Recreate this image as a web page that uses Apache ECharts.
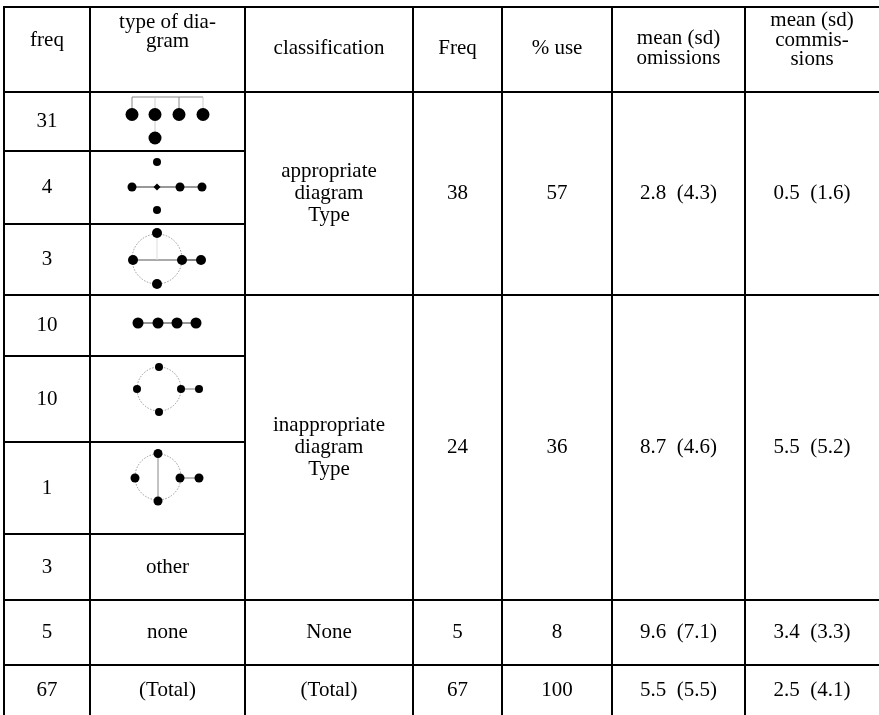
<!DOCTYPE html>
<html><head><meta charset="utf-8">
<script src="https://cdn.jsdelivr.net/npm/echarts@6/dist/echarts.min.js"></script>
<style>html,body{margin:0;padding:0;background:#fff}#c{width:879px;height:715px}</style>
</head><body><div id="c"></div>
<script>
// ---------- data ----------
const headers = ['freq', 'type of dia-\ngram', 'classification', 'Freq', '% use', 'mean (sd)\nomissions', 'mean (sd)\ncommis-\nsions'];
const rowFreq = ['31', '4', '3', '10', '10', '1', '3', '5', '67'];
const rowType = ['diagram 1', 'diagram 2', 'diagram 3', 'diagram 4', 'diagram 5', 'diagram 6', 'other', 'none', '(Total)'];
const classLabels = ['appropriate\ndiagram\nType', 'inappropriate\ndiagram\nType', 'None', '(Total)'];
const classFreq = [38, 24, 5, 67];
const classPct = [57, 36, 8, 100];
const omissionMean = [2.8, 8.7, 9.6, 5.5];
const omissionSd = [4.3, 4.6, 7.1, 5.5];
const commissionMean = [0.5, 5.5, 3.4, 2.5];
const commissionSd = [1.6, 5.2, 3.3, 4.1];

// ---------- layout ----------
const W = 879, H = 715;
const colX = [4, 90, 245, 413, 502, 612, 745, 879];
const rowY = [7, 92, 151, 224, 295, 356, 442, 534, 600, 665, 715];
const classSpans = [[1, 4], [4, 8], [8, 9], [9, 10]]; // rowY index ranges
const headerCY = [40, 32, 48, 48, 48, 48.5, 40];
const headerLH = 19.5;
const bodyLH = 22;
const FONT = '21px "Liberation Serif", "Times New Roman", serif';

// diagram glyph shapes (offsets from cell centre, px)
const diagramShapes = [
  { nodes: [[-35.5,-7,13],[-12.5,-7,13],[11.5,-7,13],[35.5,-7,13],[-12.5,16.5,13]],
    edges: [[-35.5,-24.5,35.5,-24.5,'#888',1],[-35.5,-24.5,-35.5,-7,'#888',1],[-12.5,-24.5,-12.5,16.5,'#ccc',1],[11.5,-24.5,11.5,-7,'#888',1],[35.5,-24.5,35.5,-7,'#ccc',1]],
    circles: [] },
  { nodes: [[-10.5,-25.5,8],[-35.5,-0.5,9],[12.5,-0.5,9],[34.5,-0.5,9],[-10.5,22.5,8]],
    diamonds: [[-10.5,-0.5,7]],
    edges: [[-35.5,-0.5,34.5,-0.5,'#333',1.2]],
    circles: [] },
  { nodes: [[-10.5,-26.5,10],[-34.5,0.5,10],[14.5,0.5,10],[33.5,0.5,10],[-10.5,24.5,10]],
    edges: [[-34.5,0.5,14.5,0.5,'#555',1],[14.5,0.5,33.5,0.5,'#333',1.2],[-10.5,-26.5,-10.5,0.5,'#ddd',1]],
    circles: [[-10.5,-0.5,25]] },
  { nodes: [[-29.5,-2.5,11],[-9.5,-2.5,11],[9.5,-2.5,11],[28.5,-2.5,11]],
    edges: [[-29.5,-2.5,28.5,-2.5,'#999',2]],
    circles: [] },
  { nodes: [[-8.5,-32,8],[-30.5,-10,8],[13.5,-10,8],[31.5,-10,8],[-8.5,13,8]],
    edges: [[13.5,-10,31.5,-10,'#777',1]],
    circles: [[-8.5,-10,22]] },
  { nodes: [[-9.5,-34.5,9],[-32.5,-10,9],[12.5,-10,9],[31.5,-10,9],[-9.5,13,9]],
    edges: [[-9.5,-34.5,-9.5,13,'#888',1],[12.5,-10,31.5,-10,'#777',1]],
    circles: [[-9.5,-11,23]] }
];

// ---------- build ----------
const colC = i => (colX[i] + colX[i + 1]) / 2;
const rowC = i => (rowY[i] + rowY[i + 1]) / 2;

const texts = [];
headers.forEach((h, i) => texts.push({ x: colC(i), y: headerCY[i], text: h, lh: headerLH }));
rowFreq.forEach((f, r) => texts.push({ x: colC(0), y: rowC(r + 1), text: f, lh: bodyLH }));
rowType.forEach((t, r) => { if (r >= 6) texts.push({ x: colC(1), y: rowC(r + 1), text: t, lh: bodyLH }); });
classLabels.forEach((c, k) => {
  const cy = (rowY[classSpans[k][0]] + rowY[classSpans[k][1]]) / 2;
  texts.push({ x: colC(2), y: cy, text: c, lh: bodyLH });
  texts.push({ x: colC(3), y: cy, text: String(classFreq[k]), lh: bodyLH });
  texts.push({ x: colC(4), y: cy, text: String(classPct[k]), lh: bodyLH });
  texts.push({ x: colC(5), y: cy, text: omissionMean[k].toFixed(1) + '  (' + omissionSd[k].toFixed(1) + ')', lh: bodyLH });
  texts.push({ x: colC(6), y: cy, text: commissionMean[k].toFixed(1) + '  (' + commissionSd[k].toFixed(1) + ')', lh: bodyLH });
});

// table rules
const rules = [];
[0, 1, 4, 8, 9].forEach(i => rules.push([colX[0] - 1, rowY[i], W, rowY[i]]));
[2, 3, 5, 6, 7].forEach(i => rules.push([colX[0], rowY[i], colX[2], rowY[i]]));
colX.slice(0, 7).forEach(x => rules.push([x, rowY[0] - 1, x, H]));

// diagram marks
const nodes = [], diamonds = [], edges = [], circles = [];
diagramShapes.forEach((d, r) => {
  const cx = colC(1), cy = rowC(r + 1);
  d.nodes.forEach(n => nodes.push([cx + n[0], cy + n[1], n[2]]));
  (d.diamonds || []).forEach(n => diamonds.push([cx + n[0], cy + n[1], n[2]]));
  d.edges.forEach(e => edges.push({ p: [cx + e[0], cy + e[1], cx + e[2], cy + e[3]], c: e[4], w: e[5] }));
  d.circles.forEach(c => circles.push([cx + c[0], cy + c[1], c[2]]));
});

const chart = echarts.init(document.getElementById('c'), null, { renderer: 'canvas' });
chart.setOption({
  animation: false,
  backgroundColor: '#fff',
  grid: { left: 0, right: 0, top: 0, bottom: 0 },
  xAxis: { type: 'value', min: 0, max: W, show: false },
  yAxis: { type: 'value', min: 0, max: H, inverse: true, show: false },
  series: [
    { type: 'custom', clip: false, silent: true, z: 2,
      data: circles.map(c => [c[0], c[1]]),
      renderItem: (p, api) => {
        const c = circles[p.dataIndex];
        const o = api.coord([c[0], c[1]]);
        const e = api.coord([c[0] + c[2], c[1]]);
        return { type: 'circle', shape: { cx: o[0], cy: o[1], r: e[0] - o[0] },
          style: { fill: null, stroke: '#999', lineWidth: 1, lineDash: [1.5, 1.5] } };
      } },
    { type: 'custom', clip: false, silent: true, z: 3,
      data: edges.map(e => [e.p[0], e.p[1]]),
      renderItem: (p, api) => {
        const e = edges[p.dataIndex];
        const a = api.coord([e.p[0], e.p[1]]), b = api.coord([e.p[2], e.p[3]]);
        return { type: 'line', shape: { x1: a[0], y1: a[1], x2: b[0], y2: b[1] },
          style: { stroke: e.c, lineWidth: e.w } };
      } },
    { type: 'scatter', silent: true, z: 4, data: nodes,
      symbol: 'circle', symbolSize: v => v[2], itemStyle: { color: '#000', opacity: 1 } },
    { type: 'scatter', silent: true, z: 4, data: diamonds,
      symbol: 'diamond', symbolSize: v => v[2], itemStyle: { color: '#000', opacity: 1 } },
    { type: 'custom', clip: false, silent: true, z: 5,
      data: rules.map(r => [r[0], r[1]]),
      renderItem: (p, api) => {
        const r = rules[p.dataIndex];
        const a = api.coord([r[0], r[1]]), b = api.coord([r[2], r[3]]);
        return { type: 'line', shape: { x1: a[0], y1: a[1], x2: b[0], y2: b[1] },
          style: { stroke: '#000', lineWidth: 2 } };
      } },
    { type: 'custom', clip: false, silent: true, z: 6,
      data: texts.map(t => [t.x, t.y]),
      renderItem: (p, api) => {
        const t = texts[p.dataIndex];
        const o = api.coord([t.x, t.y]);
        return { type: 'text', x: o[0], y: o[1],
          style: { text: t.text, fill: '#000', font: FONT, align: 'center', verticalAlign: 'middle', lineHeight: t.lh } };
      } }
  ]
});
</script>
</body></html>
